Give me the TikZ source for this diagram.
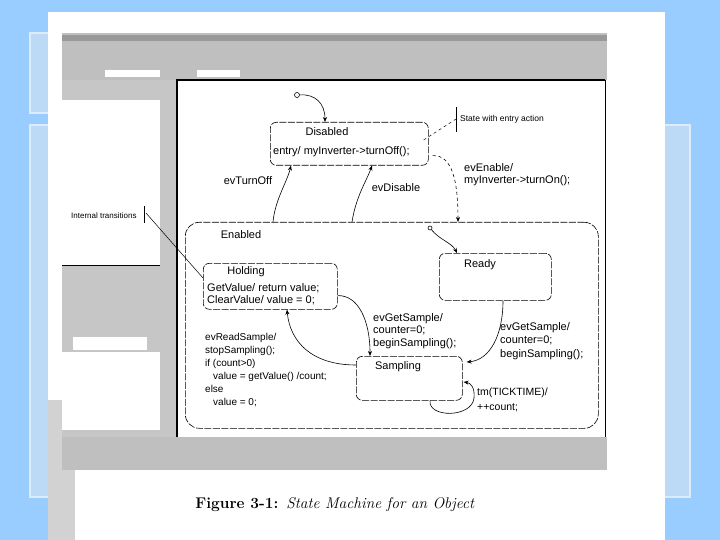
\documentclass[tikz,border=0pt]{standalone}
\usepackage{fontspec}
\newfontfamily\diag{Liberation Sans}
\usetikzlibrary{arrows.meta,calc}
\definecolor{bgblue}{HTML}{99CCFF}
\definecolor{decofill}{HTML}{BCD9F5}
\definecolor{decoedge}{HTML}{DDECFB}
\begin{document}
\begin{tikzpicture}[x=1pt,y=-1pt,
  st/.style={draw, rounded corners=6pt, dash pattern=on 7pt off 1.5pt, line width=0.6pt, inner sep=0pt, anchor=north west},
  lbl/.style={font=\diag\fontsize{11}{12.5}\selectfont, inner sep=0pt, align=left},
  small/.style={font=\diag\fontsize{8}{9}\selectfont, inner sep=0pt},
  tr/.style={-{Stealth[length=5pt,width=4pt]}, line width=0.6pt},
  pseudo/.style={circle, draw, line width=0.6pt, inner sep=0pt, minimum size=5pt}]
\useasboundingbox (0,0) rectangle (720,540);
% slide background
\fill[bgblue] (0,0) rectangle (720,540);
\filldraw[fill=decofill, draw=decoedge, line width=2pt] (30,33) rectangle (400,113);
\filldraw[fill=decofill, draw=decoedge, line width=2pt] (30,125) rectangle (690,497);
\fill[white] (48,12) rectangle (665,540);
% scanned screenshot chrome
\fill[gray!50] (62,33) rectangle (607,80);
\fill[gray!80] (62,35) rectangle (607,41);
\fill[white] (105,70) rectangle (160,77);
\fill[white] (197,70) rectangle (240,77);
\fill[gray!45] (62,80) rectangle (160,100);
\fill[gray!45] (62,265) rectangle (160,352);
\fill[white] (73,337) rectangle (147,350);
\fill[gray!45] (62,430) rectangle (160,437);
\fill[gray!50] (62,437) rectangle (607,470);
\fill[gray!35] (48,400) rectangle (62,540);
\fill[gray!35] (62,470) rectangle (75,540);
\draw[line width=0.5pt] (62,265) -- (160,265);
% internal transitions annotation (partly hidden by scroll strip)
\node[small, anchor=west] (itxt) at (71,216) {Internal transitions};
\draw[line width=0.5pt] (144,206) -- (144,223);
\coordinate (ib) at (146,213);
\fill[gray!45] (160,80) rectangle (177,437);
% canvas
\fill[white] (177,80) rectangle (605,437);
\draw[line width=1.3pt] (177,437) -- (177,80) -- (605,80);
\draw[line width=0.5pt] (605,80) -- (605,437);
% states
\node[st, minimum width=158pt, minimum height=43pt] (dis) at (270,122) {};
\node[st, rounded corners=14pt, minimum width=413pt, minimum height=206pt] (en) at (185,222) {};
\node[st, minimum width=112pt, minimum height=47pt] (ready) at (439,253) {};
\node[st, minimum width=134pt, minimum height=46pt] (hold) at (203,263) {};
\node[st, minimum width=106pt, minimum height=44pt] (samp) at (356,356) {};
\draw[line width=0.5pt] (ib) -- ($(hold.north west)+(0,15)$);
% state texts
\node[lbl] (distxt) at (327,132) {Disabled};
\node[lbl, anchor=west] (disent) at (273,152) {entry/ myInverter->turnOff();};
\node[lbl] (entxt) at (241,235) {Enabled};
\node[lbl] (readytxt) at (480,265) {Ready};
\node[lbl] (holdtxt) at (246,272) {Holding};
\node[lbl, anchor=west] (holdl1) at (207,288) {GetValue/ return value;};
\node[lbl, anchor=west] (holdl2) at (207,300) {ClearValue/ value = 0;};
\node[lbl] (samptxt) at (398,367) {Sampling};
% initial pseudostates
\node[pseudo] (i1) at (297,95) {};
\node[pseudo, minimum size=4pt] (i2) at (430,228) {};
% transitions
\draw[tr] (i1) .. controls (315,94) and (325,103) .. ($(dis.north west)+(55,0)$);
\draw[tr] ($(en.north west)+(88,0)$) .. controls (275,200) and (287,182) .. ($(dis.south west)+(21,0)$);
\draw[tr] ($(en.north west)+(167,0)$) .. controls (356,196) and (367,180) .. ($(dis.south west)+(102,0)$);
\draw[tr, dashed] ($(dis.south east)+(4,-10)$) .. controls (452,155) and (458,180) .. ($(en.north west)+(273,0)$);
\draw[tr] (i2) .. controls (440,240) and (452,243) .. ($(ready.north west)+(18,0)$);
\draw[tr] ($(hold.south east)+(0,-14)$) .. controls (358,295) and (370,320) .. ($(samp.north west)+(14,0)$);
\draw[tr] ($(ready.south west)+(64,0)$) .. controls (503,335) and (490,360) .. ($(samp.north east)+(4,6)$);
\draw[tr] ($(samp.north west)+(0,9)$) .. controls (312,365) and (290,342) .. ($(hold.south west)+(84,0)$);
\draw[tr] ($(samp.south west)+(74,0)$) .. controls (428,418) and (472,418) .. (474,398) .. controls (475,388) and (471,383) .. ($(samp.north east)+(1,26)$);
% transition labels
\node[lbl] (lto) at (248,181) {evTurnOff};
\node[lbl] (ldis) at (396,188) {evDisable};
\node[lbl, anchor=north west] (lena) at (464,163) {evEnable/\\myInverter->turnOn();};
\node[lbl, anchor=north west] (lgs1) at (373,313) {evGetSample/\\counter=0;\\beginSampling();};
\node[lbl, anchor=north west, font=\diag\fontsize{11}{13.5}\selectfont] (lgs2) at (500,322) {evGetSample/\\counter=0;\\beginSampling();};
\node[lbl, anchor=north west, font=\diag\fontsize{10}{13}\selectfont] (lrs) at (205,333) {evReadSample/\\stopSampling();\\if (count>0)\\\hspace*{8pt}value = getValue() /count;\\else\\\hspace*{8pt}value = 0;};
\node[lbl, anchor=north west, font=\diag\fontsize{10.5}{14.5}\selectfont] (ltm) at (477,388) {tm(TICKTIME)/\\++count;};
% note
\coordinate (nb) at (456,119);
\draw[line width=0.5pt] (456,107) -- (456,132);
\draw[dashed, line width=0.5pt] ($(dis.north east)+(-5,18)$) -- (nb);
\node[small, anchor=west, font=\diag\fontsize{8.5}{9}\selectfont] (note) at (460,119) {State with entry action};
% caption
\node[font=\fontsize{15.5}{18}\selectfont, inner sep=0pt] (cap) at (335,505) {\textbf{Figure 3-1:}\enspace\textit{State Machine for an Object}};
\end{tikzpicture}
\end{document}
